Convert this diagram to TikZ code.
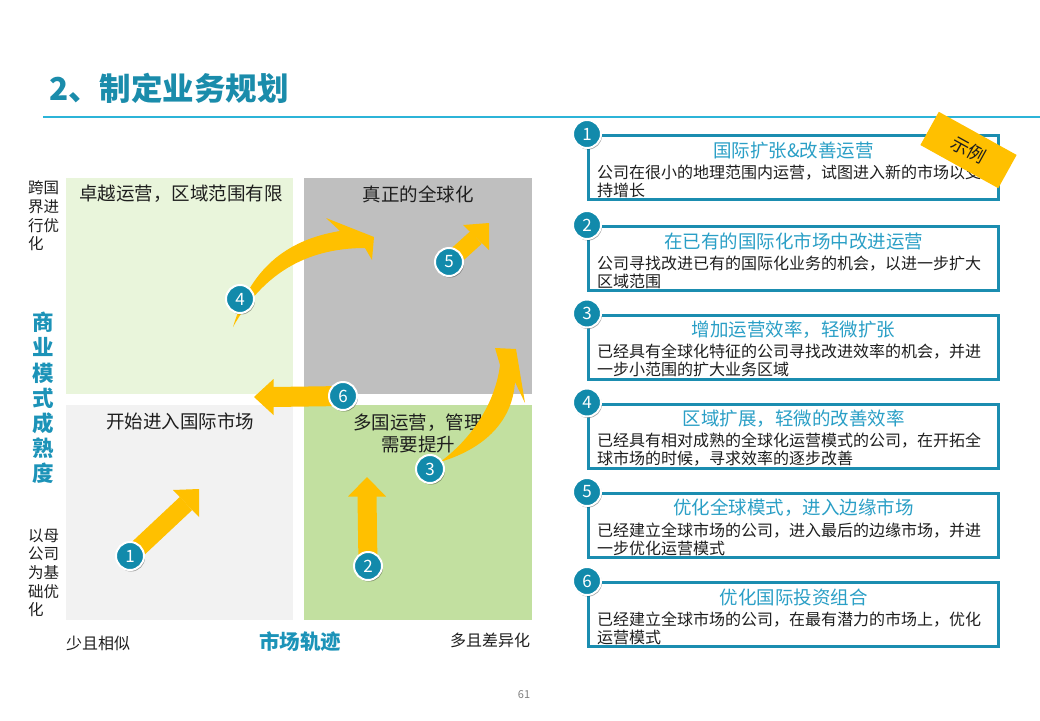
\documentclass[tikz,border=0pt]{standalone}
\usepackage{fontspec}
\setmainfont{Noto Sans CJK SC}
\usetikzlibrary{shadows,calc}
\definecolor{titleteal}{HTML}{1A8CAB}
\definecolor{axisteal}{HTML}{1C93B8}
\definecolor{boxteal}{HTML}{1B8DB0}
\definecolor{btitle}{HTML}{2A9FC6}
\definecolor{numteal}{HTML}{128AAB}
\definecolor{lineteal}{HTML}{2CB4D8}
\definecolor{arrowc}{HTML}{FFC000}
\definecolor{qtl}{HTML}{E9F5DB}
\definecolor{qtr}{HTML}{BFBFBF}
\definecolor{qbl}{HTML}{F2F2F2}
\definecolor{qbr}{HTML}{C2E0A0}
\definecolor{ink}{HTML}{1E1E1E}
\tikzset{
  qtext/.style={inner sep=0pt, text=ink, align=center, font=\fontsize{18.5}{22}\selectfont},
  axtext/.style={inner sep=0pt, text=ink, align=left, font=\fontsize{15.5}{18.7}\selectfont},
  numc/.style={circle, fill=numteal, draw=white, line width=2pt, minimum size=28pt, inner sep=0pt,
    text=white, font=\fontsize{17}{17}\selectfont,
    drop shadow={shadow xshift=1pt, shadow yshift=-1.5pt, opacity=0.35, fill=black}},
  rbox/.style={draw=boxteal, line width=3pt, fill=white, minimum width=410pt, minimum height=64pt, inner sep=0pt, anchor=north west},
  rtitle/.style={inner sep=0pt, text=btitle, font=\fontsize{18.5}{20}\selectfont},
  rbody/.style={inner sep=0pt, text=ink, align=left, anchor=west, font=\fontsize{16}{18}\selectfont},
  arrowfill/.style={fill=arrowc, draw=none},
  shaft/.style={draw=arrowc, line cap=butt},
}
\begin{document}
\begin{tikzpicture}[x=1pt,y=-1pt]
\useasboundingbox[fill=white] (0,0) rectangle (1040,720);

% title
\node[anchor=west, inner sep=0pt, text=titleteal, font=\fontsize{31.5}{33}\selectfont\bfseries] (title) at (49,88) {2、制定业务规划};
\coordinate (tl0) at (43,117);
\coordinate (tl1) at (1040,117);
\draw[lineteal, line width=1.2pt] (tl0) -- (tl1);

% quadrants
\fill[qtl] (66,178) rectangle (293,394);
\fill[qtr] (304,178) rectangle (532,394);
\fill[qbl] (66,405) rectangle (293,620);
\fill[qbr] (304,405) rectangle (532,620);

\node[qtext] (q1) at (181,194) {卓越运营，区域范围有限};
\node[qtext] (q2) at (418,194) {真正的全球化};
\node[qtext] (q3) at (180,421) {开始进入国际市场};
\node[qtext] (q4) at (418,433) {多国运营，管理\\需要提升};

% axes
\node[axtext, anchor=west] (ytop) at (28,216) {跨国\\界进\\行优\\化};
\node[axtext, anchor=west] (ybot) at (28,573) {以母\\公司\\为基\\础优\\化};
\node[inner sep=0pt, text=axisteal, align=center, font=\fontsize{21.5}{25.2}\selectfont\bfseries] (ylab) at (43,398) {商\\业\\模\\式\\成\\熟\\度};
\node[inner sep=0pt, text=ink, font=\fontsize{16}{18}\selectfont] (xl) at (98,643) {少且相似};
\node[inner sep=0pt, text=axisteal, font=\fontsize{20.5}{22}\selectfont\bfseries] (xlab) at (300,642) {市场轨迹};
\node[inner sep=0pt, text=ink, font=\fontsize{16}{18}\selectfont] (xr) at (490,640) {多且差异化};

% number circles positions (left)
\coordinate (p1) at (130,556);
\coordinate (p2) at (368,566);
\coordinate (p3) at (430,469);
\coordinate (p4) at (240,299);
\coordinate (p5) at (449,262);
\coordinate (p6) at (343,396);

% arrow 1
\coordinate (h1) at (186,503.5);
\draw[shaft, line width=18pt] (p1) -- (h1);
\fill[arrowfill] (173,490) -- (199,489) -- (199,517) -- cycle;
% arrow 2
\coordinate (h2) at (367,496);
\draw[shaft, line width=19pt] (p2) -- (h2);
\fill[arrowfill] (367,477) -- (348,496.5) -- (386,496.5) -- cycle;
% arrow 5
\coordinate (h5) at (476,237.5);
\draw[shaft, line width=17pt] (p5) -- (h5);
\fill[arrowfill] (463,225) -- (489,223) -- (489,250) -- cycle;
% arrow 6
\coordinate (h6) at (273,397);
\draw[shaft, line width=20pt] (p6) -- (h6);
\fill[arrowfill] (254,397) -- (273.5,379) -- (273.5,415) -- cycle;
% arrow 4 (curved)
\fill[arrowfill] (233,327) .. controls (250,270) and (285,240) .. (340,231)
  -- (326,218) -- (374,237) -- (372,260) -- (365,248)
  .. controls (305,248) and (262,275) .. (233,327) -- cycle;
% arrow 3 (curved)
\fill[arrowfill] (440,462) .. controls (470,440) and (495,405) .. (500,365)
  -- (495,348) -- (516,349) -- (525,403) -- (515,382)
  .. controls (512,425) and (480,450) .. (440,462) -- cycle;

\node[numc] (c1) at (p1) {1};
\node[numc] (c2) at (p2) {2};
\node[numc] (c3) at (p3) {3};
\node[numc] (c4) at (p4) {4};
\node[numc] (c5) at (p5) {5};
\node[numc] (c6) at (p6) {6};

% right boxes
\node[rbox] (b1) at (587,134) {};
\node[rtitle] (t1) at ($(b1.north)+(0,16)$) {国际扩张\&改善运营};
\node[rbody] (d1) at ($(b1.north west)+(10,47)$) {公司在很小的地理范围内运营，试图进入新的市场以支\\持增长};

\node[rbox] (b2) at (587,225) {};
\node[rtitle] (t2) at ($(b2.north)+(0,16)$) {在已有的国际化市场中改进运营};
\node[rbody] (d2) at ($(b2.north west)+(10,47)$) {公司寻找改进已有的国际化业务的机会，以进一步扩大\\区域范围};

\node[rbox] (b3) at (587,313.5) {};
\node[rtitle] (t3) at ($(b3.north)+(0,16)$) {增加运营效率，轻微扩张};
\node[rbody] (d3) at ($(b3.north west)+(10,47)$) {已经具有全球化特征的公司寻找改进效率的机会，并进\\一步小范围的扩大业务区域};

\node[rbox] (b4) at (587,402.5) {};
\node[rtitle] (t4) at ($(b4.north)+(0,16)$) {区域扩展，轻微的改善效率};
\node[rbody] (d4) at ($(b4.north west)+(10,47)$) {已经具有相对成熟的全球化运营模式的公司，在开拓全\\球市场的时候，寻求效率的逐步改善};

\node[rbox] (b5) at (587,492) {};
\node[rtitle] (t5) at ($(b5.north)+(0,16)$) {优化全球模式，进入边缘市场};
\node[rbody] (d5) at ($(b5.north west)+(10,47)$) {已经建立全球市场的公司，进入最后的边缘市场，并进\\一步优化运营模式};

\node[rbox] (b6) at (587,581) {};
\node[rtitle] (t6) at ($(b6.north)+(0,16)$) {优化国际投资组合};
\node[rbody] (d6) at ($(b6.north west)+(10,47)$) {已经建立全球市场的公司，在最有潜力的市场上，优化\\运营模式};

\node[numc] (r1) at (b1.north west) {1};
\node[numc] (r2) at (b2.north west) {2};
\node[numc] (r3) at (b3.north west) {3};
\node[numc] (r4) at (b4.north west) {4};
\node[numc] (r5) at (b5.north west) {5};
\node[numc] (r6) at (b6.north west) {6};

% tag
\node[fill=arrowc, minimum width=89pt, minimum height=38pt, inner sep=0pt, rotate=-29,
  text=ink, font=\fontsize{18}{18}\selectfont] (tag) at (968.5,150) {示例};

% page number
\node[inner sep=0pt, text=gray, font=\fontsize{11}{11}\selectfont] (pg) at (524,695) {61};
\end{tikzpicture}
\end{document}
